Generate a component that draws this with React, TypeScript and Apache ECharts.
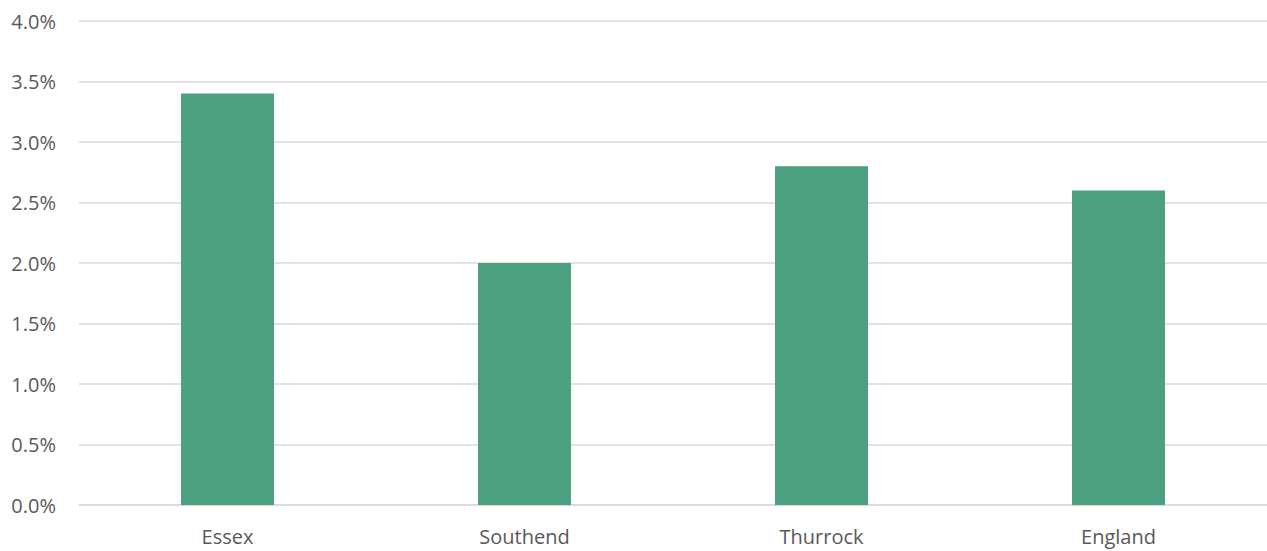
import React, { useEffect, useRef } from "react";
import * as echarts from "echarts";

const categories = ["Essex", "Southend", "Thurrock", "England"];
const values = [0.034, 0.02, 0.028, 0.026];

export default function App() {
  const ref = useRef<HTMLDivElement>(null);
  useEffect(() => {
    const chart = echarts.init(ref.current!, null, { renderer: "svg" });
    chart.setOption({
      animation: false,
      grid: { left: 79, right: 0, top: 21, bottom: 46 },
      xAxis: {
        type: "category",
        data: categories,
        axisLine: { lineStyle: { color: "#D9D9D9", width: 1.5 } },
        axisTick: { show: false },
        axisLabel: { color: "#595959", fontSize: 20, fontFamily: "Open Sans", margin: 21 },
      },
      yAxis: {
        type: "value",
        min: 0,
        max: 0.04,
        interval: 0.005,
        axisLine: { show: false },
        axisTick: { show: false },
        splitLine: { lineStyle: { color: "#D9D9D9", width: 1.5 } },
        axisLabel: {
          color: "#595959",
          fontSize: 20,
          fontFamily: "Open Sans",
          margin: 23,
          formatter: (v: number) => (v * 100).toFixed(1) + "%",
        },
      },
      series: [
        {
          type: "bar",
          data: values,
          barWidth: "31.3%",
          itemStyle: { color: "#4BA07F" },
        },
      ],
    });
    return () => chart.dispose();
  }, []);
  return (
    <div
      ref={ref}
      style={{ position: "fixed", left: 0, top: 0, width: 1267, height: 551, background: "#fff" }}
    />
  );
}
